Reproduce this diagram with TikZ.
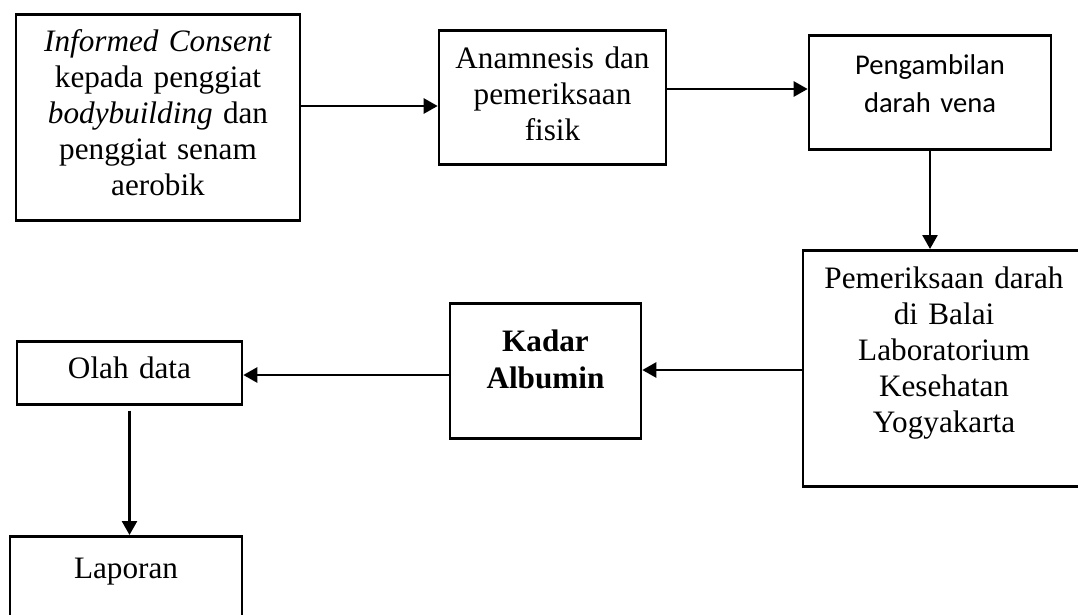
\documentclass[tikz,border=0pt]{standalone}
\usepackage{fontspec}
\setmainfont{Liberation Serif}
\newfontfamily\calibri{Carlito}
\usetikzlibrary{arrows.meta}

\begin{document}
\begin{tikzpicture}[x=1pt, y=-1pt,
    box/.style={draw, line width=2.6pt, anchor=north, align=center,
      inner xsep=0pt, inner ysep=0pt, font=\fontsize{31.2}{36}\selectfont},
    arr/.style={-{Triangle[length=14pt, width=15pt]}, line width=2.6pt}]
  \useasboundingbox (0,0) rectangle (1078,614);
  \clip (0,0) rectangle (1078,614);

  % Boxes
  \node[box, text width=284pt, text height=37pt, text depth=169pt] (consent) at (158,13)
    {\textit{Informed Consent}\\ kepada penggiat\\ \textit{bodybuilding} dan\\ penggiat senam\\ aerobik};
  \node[box, text width=227pt, text height=38pt, text depth=96pt] (anam) at (552.5,29)
    {Anamnesis dan\\ pemeriksaan\\ fisik};
  \node[box, text width=242pt, text height=39pt, text depth=75pt,
    font=\calibri\fontsize{28.6}{38}\selectfont] (peng) at (930,34)
    {Pengambilan\\ darah vena};
  \node[box, text width=282pt, text height=38pt, text depth=198pt] (pem) at (944,249)
    {Pemeriksaan darah\\ di Balai\\ Laboratorium\\ Kesehatan\\ Yogyakarta};
  \node[box, text width=191pt, text height=48pt, text depth=87pt,
    font=\fontsize{31.2}{37}\selectfont\bfseries] (kadar) at (545.5,302)
    {Kadar\\ Albumin};
  \node[box, text width=225pt, text height=37pt, text depth=26pt] (olah) at (129.5,340)
    {Olah data};
  \node[box, text width=232pt, text height=42pt, text depth=63pt] (lap) at (126,535)
    {Laporan};

  % Arrows
  \draw[arr] (consent.east |- 0,106) -- (anam.west |- 0,106);
  \draw[arr] (anam.east |- 0,89) -- (peng.west |- 0,89);
  \draw[arr] (peng.south) -- (peng.south |- pem.north);
  \draw[arr] (pem.west |- 0,370) -- (kadar.east |- 0,370);
  \draw[arr] (kadar.west |- 0,375) -- (olah.east |- 0,375);
  \draw[arr] ([yshift=-5pt]olah.south) -- (olah.south |- lap.north);
\end{tikzpicture}
\end{document}
